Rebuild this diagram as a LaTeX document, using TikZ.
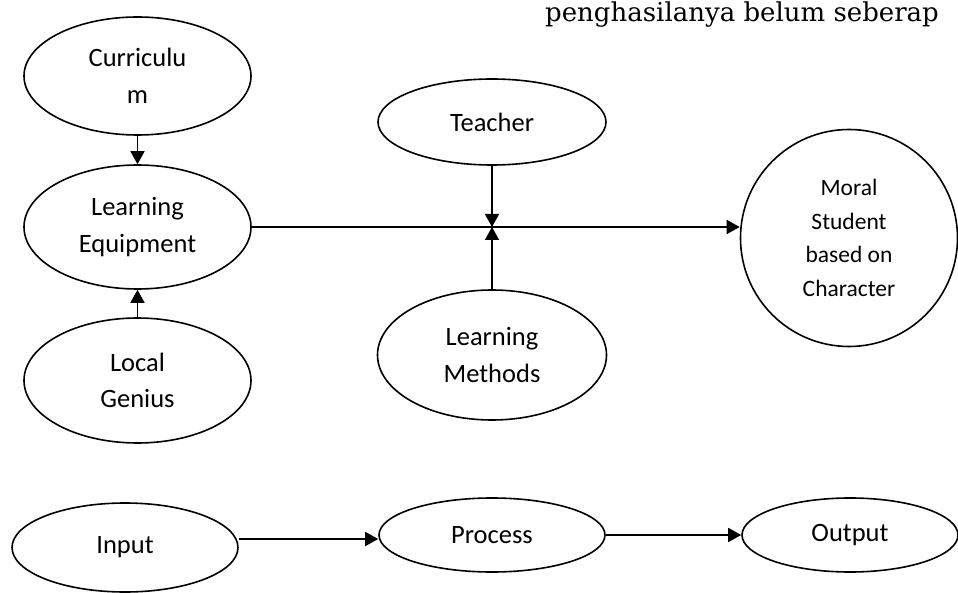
\documentclass[tikz,border=0pt]{standalone}
\usepackage{fontspec}
\setmainfont{Carlito}
\newfontfamily\topserif{DejaVu Serif}
\usetikzlibrary{shapes.geometric,arrows.meta}
\tikzset{
  oval/.style={draw, line width=1.6pt, ellipse, inner sep=0pt, align=center,
    font=\fontsize{26.5}{36.5}\selectfont},
  roundbox/.style={draw, line width=1.6pt, circle, inner sep=0pt, align=center,
    minimum size=217pt, font=\fontsize{23.5}{33.5}\selectfont},
  arr/.style={line width=1.6pt, -{Triangle[length=13pt,width=14pt]}}
}
\begin{document}
\begin{tikzpicture}[x=1pt,y=-1pt]
\useasboundingbox (0,0) rectangle (958,593);
\clip (0,0) rectangle (958,593);
\fill[white] (0,0) rectangle (958,593);

\node[anchor=base west, font=\topserif\fontsize{26}{30}\selectfont, inner sep=0pt] (toptext) at (545,22) {penghasilanya belum seberap};

\node[oval, minimum width=227pt, minimum height=118pt] (cur) at (137.5,76) {Curriculu\\m};
\node[oval, minimum width=227pt, minimum height=124pt] (le) at (137.5,227) {Learning\\Equipment};
\node[oval, minimum width=227pt, minimum height=125pt] (lg) at (137.5,380.5) {Local\\Genius};
\node[oval, minimum width=228pt, minimum height=86pt] (tea) at (492,122) {Teacher};
\node[oval, minimum width=229pt, minimum height=130pt] (lm) at (492,355) {Learning\\Methods};
\node[roundbox] (moral) at (849,238) {Moral\\Student\\based on\\Character};

\node[oval, minimum width=226pt, minimum height=89pt] (in) at (125,547.5) {Input};
\node[oval, minimum width=226pt, minimum height=74pt] (pro) at (492,535) {Process};
\node[oval, minimum width=216pt, minimum height=74pt] (out) at (850,535) {Output};

\coordinate (J) at (le.east -| tea.south);

\draw[arr] (cur.south) -- (le.north);
\draw[arr] (lg.north) -- (le.south);
\draw[arr] (le.east) -- (le.east -| moral.west);
\draw[arr] (tea.south) -- (J);
\draw[arr] (lm.north) -- (J);
\draw[arr] ([yshift=8.5pt]in.east) -- ([yshift=-4pt]pro.west);
\draw[arr] (pro.east) -- (out.west);
\end{tikzpicture}
\end{document}
